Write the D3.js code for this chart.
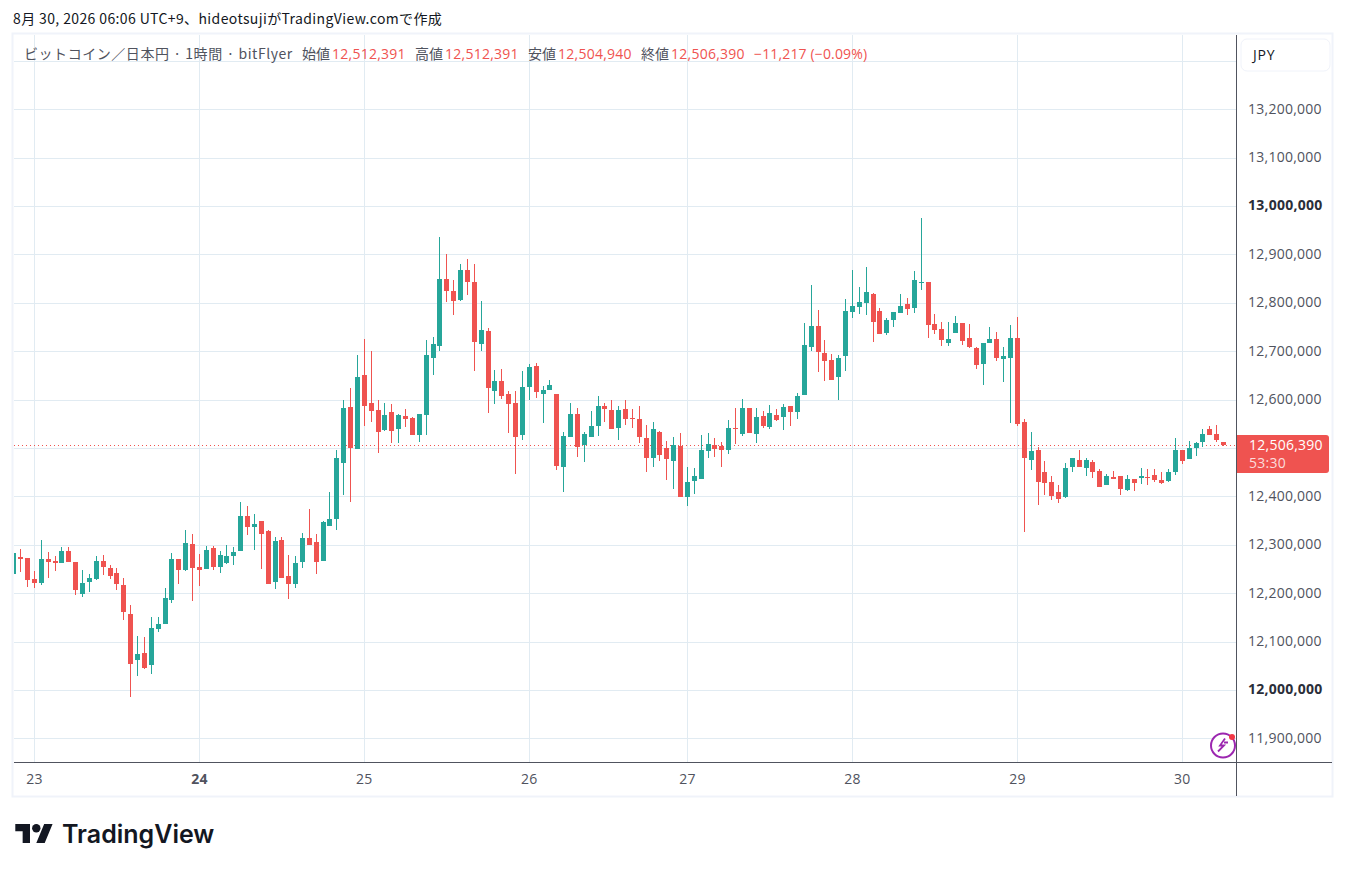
<!DOCTYPE html>
<meta charset="utf-8">
<style>
html, body { margin: 0; padding: 0; background: #fff; }
svg { display: block; }
text { font-family: "Open Sans", "Noto Sans CJK JP", sans-serif; }
.jp, .jp text { font-family: "Noto Sans CJK JP", sans-serif; }
.axis text { font-size: 14px; fill: #50535e; letter-spacing: 0.25px; }
.axis .domain { display: none; }
</style>
<svg id="chart" width="1346" height="872"></svg>
<script src="https://cdn.jsdelivr.net/npm/d3@7"></script>
<script>
// prices in thousand yen, one hourly candle each
var opens = [
12240,12275,12273,12230,12221,12271,12267,12262,12287,12265,
12199,12223,12230,12267,12252,12242,12217,12157,12062,12077,
12052,12126,12137,12186,12271,12248,12302,12254,12250,12293,
12254,12263,12277,12287,12359,12337,12349,12329,12223,12310,
12236,12219,12265,12314,12306,12267,12339,12353,12469,12584,
12498,12650,12592,12578,12537,12574,12539,12566,12562,12526,
12568,12685,12710,12850,12825,12805,12867,12842,12714,12741,
12617,12638,12611,12592,12526,12625,12669,12611,12619,12611,
12460,12522,12570,12506,12522,12545,12586,12578,12541,12580,
12561,12559,12520,12479,12533,12500,12473,12504,12399,12432,
12436,12493,12506,12504,12496,12541,12529,12582,12529,12566,
12543,12568,12564,12586,12574,12609,12708,12751,12696,12681,
12646,12689,12780,12792,12799,12819,12782,12737,12764,12778,
12797,12790,12840,12842,12755,12745,12716,12737,12759,12728,
12706,12673,12716,12724,12683,12685,12728,12553,12475,12495,
12450,12430,12409,12399,12460,12475,12458,12471,12452,12423,
12440,12442,12413,12436,12438,12440,12444,12434,12432,12450,
12495,12477,12500,12512,12539,12528,12512.391];
var highs = [
12283,12291,12273,12246,12310,12285,12277,12295,12295,12265,
12248,12240,12277,12279,12258,12252,12232,12176,12112,12110,
12151,12151,12211,12283,12271,12330,12322,12281,12298,12298,
12287,12300,12296,12388,12380,12364,12349,12331,12316,12316,
12279,12277,12324,12374,12322,12349,12409,12496,12599,12623,
12691,12724,12700,12599,12592,12590,12570,12580,12564,12570,
12722,12729,12935,12900,12846,12879,12891,12879,12803,12747,
12660,12663,12617,12617,12658,12673,12675,12627,12640,12611,
12533,12592,12582,12533,12576,12607,12592,12599,12586,12599,
12580,12586,12547,12553,12535,12514,12522,12531,12460,12458,
12526,12531,12520,12512,12557,12582,12601,12582,12582,12576,
12588,12580,12590,12586,12613,12759,12836,12784,12722,12693,
12691,12807,12867,12832,12873,12821,12790,12768,12780,12817,
12809,12865,12976,12842,12776,12761,12761,12772,12759,12757,
12708,12716,12749,12739,12708,12753,12770,12559,12533,12502,
12473,12442,12423,12469,12479,12495,12479,12475,12456,12446,
12452,12442,12444,12436,12458,12456,12456,12450,12456,12520,
12495,12514,12512,12539,12545,12547,12512.391];
var lows = [
12236,12244,12213,12211,12217,12232,12246,12262,12265,12196,
12192,12203,12227,12238,12230,12207,12145,11986,12029,12044,
12032,12120,12137,12180,12219,12246,12184,12215,12250,12248,
12242,12260,12258,12287,12320,12289,12250,12219,12209,12232,
12188,12211,12252,12300,12240,12267,12339,12331,12403,12388,
12498,12545,12553,12489,12535,12510,12510,12543,12526,12512,
12526,12650,12700,12801,12774,12803,12815,12658,12700,12572,
12590,12601,12531,12446,12516,12599,12603,12551,12619,12454,
12409,12522,12481,12471,12522,12524,12553,12539,12516,12547,
12541,12510,12450,12460,12473,12434,12415,12399,12380,12405,
12436,12479,12481,12460,12487,12508,12524,12531,12510,12541,
12539,12555,12537,12545,12559,12609,12700,12656,12638,12640,
12599,12658,12768,12776,12774,12718,12735,12733,12749,12778,
12774,12778,12827,12728,12735,12710,12710,12737,12712,12706,
12663,12630,12716,12679,12636,12551,12545,12326,12454,12382,
12403,12392,12386,12397,12450,12460,12442,12438,12419,12423,
12436,12403,12411,12411,12425,12423,12430,12425,12430,12444,
12467,12477,12483,12502,12526,12512,12504.94];
var closes = [
12283,12271,12227,12221,12271,12265,12262,12287,12265,12207,
12221,12232,12267,12254,12236,12219,12161,12054,12075,12046,
12128,12137,12190,12271,12248,12304,12252,12248,12289,12254,
12279,12277,12285,12359,12337,12343,12322,12219,12308,12232,
12219,12263,12314,12300,12265,12347,12353,12479,12582,12500,
12646,12586,12576,12533,12568,12535,12568,12559,12526,12570,
12691,12714,12848,12825,12803,12867,12842,12718,12743,12623,
12638,12607,12590,12522,12625,12667,12615,12619,12630,12463,
12524,12570,12502,12529,12545,12586,12580,12539,12578,12559,
12559,12522,12479,12539,12485,12477,12506,12399,12430,12442,
12496,12508,12498,12496,12541,12539,12582,12531,12564,12545,
12572,12557,12584,12574,12607,12712,12751,12698,12679,12640,
12685,12782,12794,12801,12823,12761,12735,12764,12780,12794,
12786,12846,12842,12753,12743,12722,12724,12759,12720,12708,
12671,12716,12726,12685,12689,12728,12549,12479,12493,12430,
12427,12401,12394,12458,12479,12460,12475,12450,12419,12442,
12436,12415,12436,12427,12442,12438,12434,12427,12450,12495,
12473,12500,12510,12528,12526,12516,12506.39];

var dayIndex = [3, 27, 51, 75, 98, 122, 146, 170];
var dayLabels = ["23", "24", "25", "26", "27", "28", "29", "30"];
var gridPrices = d3.range(11900, 13301, 100);
var axisPrices = [11900, 12000, 12100, 12200, 12300, 12400, 12600, 12700, 12800, 12900, 13000, 13100, 13200];
var boldPrices = [12000, 13000];
var lastPrice = "12,506,390";
var countdown = "53:30";
var watermark = "8月 30, 2026 06:06 UTC+9、hideotsujiがTradingView.comで作成";
var symbolTitle = "ビットコイン／日本円 · 1時間 · bitFlyer";
var legendNames = ["始値", "高値", "安値", "終値"];
var legendValues = ["12,512,391", "12,512,391", "12,504,940", "12,506,390"];
var legendChange = "−11,217 (−0.09%)";

var up = "#26a69a", down = "#ef5350", gridColor = "#e1ebf2", axisColor = "#50535e";
var left = 14, right = 1236, top_ = 35, bottom = 762;

var svg = d3.select("#chart");

var x = d3.scaleLinear().domain([0, 176]).range([13.3, 1223.1]);
var y = d3.scaleLinear().domain([11900, 13300]).range([738.3, 60.7]);

// frame
svg.append("rect").attr("x", 12.5).attr("y", 33.5).attr("width", 1320).attr("height", 763)
  .attr("fill", "#fff").attr("stroke", "#f0f3fa").attr("stroke-width", 2);

// grid
svg.append("g").selectAll("line").data(gridPrices).join("line")
  .attr("x1", left).attr("x2", right)
  .attr("y1", function(d) { return Math.round(y(d)) + 0.5; })
  .attr("y2", function(d) { return Math.round(y(d)) + 0.5; })
  .attr("stroke", gridColor);
svg.append("g").selectAll("line").data(dayIndex).join("line")
  .attr("x1", function(d) { return Math.round(x(d)) + 0.5; })
  .attr("x2", function(d) { return Math.round(x(d)) + 0.5; })
  .attr("y1", top_).attr("y2", bottom)
  .attr("stroke", gridColor);

// last price line
svg.append("line")
  .attr("x1", left).attr("x2", right)
  .attr("y1", Math.round(y(closes[176])) + 0.5).attr("y2", Math.round(y(closes[176])) + 0.5)
  .attr("stroke", down).attr("stroke-dasharray", "1 3");

svg.append("defs").append("clipPath").attr("id", "clip")
  .append("rect").attr("x", left).attr("y", top_).attr("width", right - left).attr("height", bottom - top_);

var candles = svg.append("g").attr("clip-path", "url(#clip)")
  .selectAll("g").data(d3.range(opens.length)).join("g");
function col(i) { return closes[i] >= opens[i] ? up : down; }
function cx(i) { return Math.round(x(i)); }
candles.append("rect")
  .attr("x", function(i) { return cx(i); })
  .attr("width", 1)
  .attr("y", function(i) { return Math.round(y(highs[i])); })
  .attr("height", function(i) { return Math.max(1, Math.round(y(lows[i])) - Math.round(y(highs[i]))); })
  .attr("fill", col);
candles.append("rect")
  .attr("x", function(i) { return cx(i) - 2; })
  .attr("width", 5)
  .attr("y", function(i) { return Math.round(y(Math.max(opens[i], closes[i]))); })
  .attr("height", function(i) { return Math.max(1, Math.round(y(Math.min(opens[i], closes[i]))) - Math.round(y(Math.max(opens[i], closes[i])))); })
  .attr("fill", col);

// axes
var yAxis = svg.append("g").attr("class", "axis").attr("transform", "translate(1236,-0.5)")
  .call(d3.axisRight(y).tickValues(axisPrices).tickSize(0).tickPadding(12)
    .tickFormat(function(d) { return d3.format(",")(d * 1000); }));
yAxis.selectAll(".tick text")
  .attr("font-weight", function(d) { return boldPrices.indexOf(d) >= 0 ? 700 : 400; })
  .style("fill", function(d) { return boldPrices.indexOf(d) >= 0 ? "#2a2e39" : null; });

var xAxis = svg.append("g").attr("class", "axis").attr("transform", "translate(0,762)")
  .call(d3.axisBottom(x).tickValues(dayIndex).tickSize(0).tickPadding(12)
    .tickFormat(function(d) { return dayLabels[dayIndex.indexOf(d)]; }));
xAxis.selectAll(".tick text")
  .attr("font-weight", function(d) { return dayLabels[dayIndex.indexOf(d)] == "24" ? 700 : 400; });

svg.append("line").attr("x1", left).attr("x2", 1332).attr("y1", 762.5).attr("y2", 762.5).attr("stroke", axisColor);
svg.append("line").attr("x1", 1236.5).attr("x2", 1236.5).attr("y1", top_).attr("y2", 796).attr("stroke", axisColor);

// price label
svg.append("path").attr("d", "M1237 435H1326a3 3 0 0 1 3 3V470a3 3 0 0 1 -3 3H1237Z").attr("fill", down);
svg.append("text").text(lastPrice).attr("x", 1249).attr("y", 449.5).attr("fill", "#fff")
  .attr("font-size", 14).attr("letter-spacing", 0.25);
svg.append("text").text(countdown).attr("x", 1249).attr("y", 468).attr("fill", "#fbdcdb")
  .attr("font-size", 14).attr("letter-spacing", 0.25);

// currency button
svg.append("rect").attr("x", 1241).attr("y", 39).attr("width", 89).attr("height", 32).attr("rx", 6)
  .attr("fill", "#fff").attr("stroke", "#f0f3fa");
svg.append("text").text("JPY").attr("x", 1253).attr("y", 60).attr("font-size", 14)
  .attr("letter-spacing", 0.8).attr("fill", "#131722");

// header
svg.append("text").attr("class", "jp").text(watermark).attr("x", 13).attr("y", 24)
  .attr("font-size", 14).attr("letter-spacing", 0.38).attr("fill", "#131722");
svg.append("text").attr("class", "jp").text(symbolTitle).attr("x", 24).attr("y", 59)
  .attr("font-size", 14).attr("letter-spacing", 0.55).attr("fill", "#50535e");
var nameX = [302, 415, 528, 641], valueX = [332, 445, 558, 671];
svg.append("g").attr("class", "jp").selectAll("text").data(legendNames).join("text")
  .text(function(d) { return d; })
  .attr("x", function(d, i) { return nameX[i]; }).attr("y", 59)
  .attr("font-size", 14).attr("fill", "#50535e");
svg.append("g").selectAll("text").data(legendValues).join("text")
  .text(function(d) { return d; })
  .attr("x", function(d, i) { return valueX[i]; }).attr("y", 59)
  .attr("font-size", 14).attr("letter-spacing", 0.25).attr("fill", down);
svg.append("text").text(legendChange).attr("x", 754).attr("y", 59)
  .attr("font-size", 14).attr("letter-spacing", 0.15).attr("fill", down);

// bolt icon
var bolt = svg.append("g").attr("transform", "translate(1223,745.5)");
bolt.append("circle").attr("r", 12).attr("fill", "#fff").attr("stroke", "#9c27b0").attr("stroke-width", 2);
bolt.append("path").attr("d", "M2 -7L-3 0H1L-5 6M5 -3H1").attr("fill", "none").attr("stroke", "#9c27b0").attr("stroke-width", 1.8);
svg.append("circle").attr("cx", 1232).attr("cy", 737).attr("r", 3).attr("fill", "#f23645");

// logo
var logo = svg.append("g").attr("transform", "translate(15.3,819.8) scale(1.05)").attr("fill", "#131722");
logo.append("path").attr("d", "M14 22H7V11H0V4h14v18zM28 22h-8l7.5-18h8L28 22z");
logo.append("circle").attr("cx", 20).attr("cy", 8).attr("r", 4);
svg.append("text").text("TradingView").attr("x", 62).attr("y", 843)
  .style("font-family", "Inter").attr("font-size", 25).attr("font-weight", 600).attr("fill", "#131722");
</script>
